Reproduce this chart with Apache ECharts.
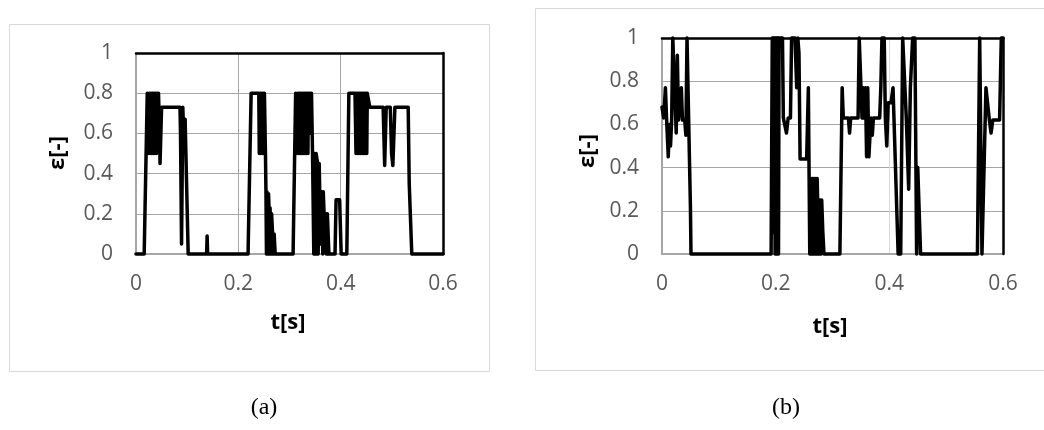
<!DOCTYPE html>
<html>
<head>
<meta charset="utf-8">
<script src="https://cdn.jsdelivr.net/npm/echarts@6/dist/echarts.min.js"></script>
<style>
html,body{margin:0;padding:0;background:#fff;}
#chart{width:1044px;height:430px;}
</style>
</head>
<body>
<div id="chart"></div>
<script>
// ---- data ----
const xTicks = [0, 0.2, 0.4, 0.6];
const yTicks = [0, 0.2, 0.4, 0.6, 0.8, 1];

// panel (a)
const tA = [0, 0.016, 0.018, 0.019, 0.022, 0.025, 0.026, 0.028, 0.029, 0.031, 0.032, 0.034, 0.035, 0.037, 0.038, 0.040, 0.041, 0.043, 0.044, 0.046, 0.047, 0.050,
  0.086, 0.087, 0.089, 0.0915, 0.093, 0.096, 0.099, 0.102, 0.138, 0.139, 0.140,
  0.219, 0.225, 0.240, 0.241, 0.242, 0.244, 0.245, 0.247, 0.248, 0.250, 0.251, 0.253, 0.254, 0.255, 0.256, 0.258, 0.259, 0.260, 0.261, 0.262, 0.264, 0.265, 0.267, 0.268, 0.270, 0.272,
  0.307, 0.312, 0.315, 0.316, 0.318, 0.319, 0.321, 0.322, 0.324, 0.325, 0.327, 0.328, 0.330, 0.331, 0.333, 0.334, 0.336, 0.337, 0.339, 0.340, 0.342, 0.343, 0.345, 0.3475,
  0.349, 0.351, 0.352, 0.355, 0.356, 0.358, 0.360, 0.361, 0.363, 0.365, 0.366, 0.368, 0.369, 0.371, 0.372, 0.374, 0.376, 0.377,
  0.389, 0.391, 0.398, 0.401, 0.412, 0.416, 0.428, 0.430, 0.431, 0.433, 0.434, 0.436, 0.437, 0.439, 0.440, 0.442, 0.443, 0.445, 0.446, 0.448, 0.449, 0.451, 0.452, 0.455, 0.457,
  0.483, 0.486, 0.489, 0.497, 0.4995, 0.502, 0.504, 0.506, 0.532, 0.534, 0.539, 0.6];
const epsA = [0, 0, 0.27, 0.27, 0.8, 0.5, 0.8, 0.5, 0.8, 0.5, 0.8, 0.5, 0.8, 0.5, 0.8, 0.5, 0.8, 0.55, 0.8, 0.6, 0.45, 0.73,
  0.73, 0.6, 0.05, 0.73, 0.6, 0.67, 0.67, 0, 0, 0.09, 0,
  0, 0.8, 0.8, 0.5, 0.8, 0.5, 0.8, 0.5, 0.8, 0.5, 0.8, 0.5, 0.31, 0, 0.31, 0, 0.3, 0.23, 0, 0.23, 0, 0.2, 0.1, 0, 0.1, 0,
  0, 0.8, 0.5, 0.8, 0.5, 0.8, 0.5, 0.8, 0.5, 0.8, 0.5, 0.8, 0.5, 0.8, 0.5, 0.8, 0.5, 0.8, 0.6, 0.8, 0.6, 0.8, 0.5, 0,
  0.5, 0, 0.5, 0.45, 0, 0.45, 0.45, 0.05, 0.31, 0, 0.31, 0.31, 0.1, 0.2, 0, 0.2, 0.2, 0,
  0, 0.27, 0.27, 0, 0, 0.8, 0.8, 0.5, 0.8, 0.5, 0.8, 0.5, 0.8, 0.5, 0.8, 0.5, 0.8, 0.5, 0.8, 0.5, 0.8, 0.5, 0.8, 0.8, 0.73,
  0.73, 0.44, 0.73, 0.73, 0.5, 0.44, 0.44, 0.73, 0.73, 0.35, 0, 0];

// panel (b)
const tB = [0, 0.003, 0.006, 0.008, 0.011, 0.013, 0.015, 0.017, 0.019, 0.022, 0.025, 0.027, 0.029, 0.031, 0.034, 0.036, 0.040, 0.042, 0.044, 0.047, 0.050, 0.051,
  0.192, 0.194, 0.195, 0.196, 0.197, 0.198, 0.199, 0.200, 0.201, 0.202, 0.203, 0.204, 0.205, 0.206, 0.2075, 0.212, 0.2135, 0.216, 0.219, 0.222, 0.226, 0.228, 0.234, 0.237, 0.239, 0.241, 0.243, 0.2545, 0.2575, 0.260,
  0.261, 0.262, 0.263, 0.264, 0.265, 0.266, 0.267, 0.268, 0.269, 0.270, 0.271, 0.272, 0.273, 0.275, 0.276, 0.277, 0.278, 0.279, 0.280, 0.281, 0.283, 0.285,
  0.313, 0.317, 0.319, 0.328, 0.330, 0.332, 0.345, 0.347, 0.350, 0.352, 0.354, 0.356, 0.358, 0.360, 0.362, 0.364, 0.366, 0.368, 0.370, 0.372, 0.383, 0.385, 0.387, 0.391, 0.393, 0.3955, 0.398, 0.403, 0.4065, 0.4155,
  0.420, 0.4235, 0.427, 0.430, 0.434, 0.437, 0.441, 0.445, 0.448, 0.450, 0.453, 0.455,
  0.555, 0.559, 0.563, 0.566, 0.570, 0.576, 0.579, 0.582, 0.594, 0.597, 0.6];
const epsB = [0.68, 0.63, 0.77, 0.63, 0.45, 0.6, 0.5, 0.62, 1, 1, 0.56, 0.92, 0.62, 0.62, 0.77, 0.62, 0.62, 0.55, 1, 1, 0.22, 0,
  0, 1, 0.1, 1, 0.2, 1, 0, 1, 0, 1, 0, 1, 0, 1, 1, 1, 0.63, 0.63, 0.56, 0.63, 0.63, 1, 1, 0.77, 1, 0.93, 0.44, 0.44, 0.77, 0,
  0.28, 0, 0.35, 0, 0.35, 0, 0.35, 0, 0.35, 0.05, 0.35, 0, 0.35, 0.35, 0, 0.25, 0, 0.25, 0, 0.25, 0.1, 0,
  0, 0.77, 0.63, 0.63, 0.56, 0.63, 0.63, 1, 1, 0.63, 0.77, 0.63, 0.77, 0.45, 0.77, 0.45, 0.55, 0.63, 0.55, 0.63, 0.63, 0.77, 1, 1, 0.63, 0.5, 0.7, 0.7, 0.77, 0,
  0, 1, 1, 0.62, 0.3, 0.77, 1, 1, 0, 0.4, 0.4, 0,
  0, 1, 0, 0, 0.77, 0.62, 0.56, 0.62, 0.62, 1, 1];

// ---- chart ----
const seriesA = tA.map((t, i) => [t, epsA[i]]);
const seriesB = tB.map((t, i) => [t, epsB[i]]);
const xMin = xTicks[0], xMax = xTicks[xTicks.length - 1], xInt = xTicks[1] - xTicks[0];
const yMin = yTicks[0], yMax = yTicks[yTicks.length - 1], yInt = yTicks[1] - yTicks[0];

const tickFont = { fontFamily: 'Open Sans', fontSize: 21, color: '#595959' };

function xAxes(grid, vGridColor) {
  return [
    { type: 'value', gridIndex: grid, position: 'bottom', min: xMin, max: xMax, interval: xInt,
      axisLine: { show: true, onZero: false, lineStyle: { color: '#a6a6a6', width: 2 } },
      axisTick: { show: false },
      axisLabel: Object.assign({ margin: 20 }, tickFont),
      splitLine: { show: true, lineStyle: { color: vGridColor, width: 1 } }, z: 3 },
    { type: 'value', gridIndex: grid, position: 'top', min: xMin, max: xMax, interval: xInt,
      axisLine: { show: true, onZero: false, lineStyle: { color: '#000', width: 2.5 } },
      axisTick: { show: false }, axisLabel: { show: false }, splitLine: { show: false }, z: 6 }
  ];
}
function yAxes(grid) {
  return [
    { type: 'value', gridIndex: grid, position: 'left', min: yMin, max: yMax, interval: yInt,
      axisLine: { show: true, onZero: false, lineStyle: { color: '#a6a6a6', width: 2 } },
      axisTick: { show: false },
      axisLabel: Object.assign({ margin: 23 }, tickFont),
      splitLine: { show: true, lineStyle: { color: '#a6a6a6', width: 1 } }, z: 3 },
    { type: 'value', gridIndex: grid, position: 'right', min: yMin, max: yMax, interval: yInt,
      axisLine: { show: true, onZero: false, lineStyle: { color: '#000', width: 2.5 } },
      axisTick: { show: false }, axisLabel: { show: false }, splitLine: { show: false }, z: 6 }
  ];
}

function txt(x, y, s, font, rot) {
  return { type: 'text', x: x, y: y, rotation: rot || 0, z: 10,
    style: { text: s, font: font, fill: '#000', align: 'center', verticalAlign: 'middle',
             textAlign: 'center', textVerticalAlign: 'middle' } };
}

const chart = echarts.init(document.getElementById('chart'), null, { renderer: 'canvas' });
chart.setOption({
  animation: false,
  backgroundColor: '#fff',
  grid: [
    { left: 136, top: 53, width: 307, height: 201 },
    { left: 662, top: 38, width: 341, height: 216 }
  ],
  xAxis: xAxes(0, '#a6a6a6').concat(xAxes(1, '#d9d9d9')),
  yAxis: yAxes(0).concat(yAxes(1)),
  series: [
    { type: 'line', xAxisIndex: 0, yAxisIndex: 0, data: seriesA, symbol: 'none', clip: false,
      lineStyle: { color: '#000', width: 3.5, join: 'round', cap: 'round' }, z: 5 },
    { type: 'line', xAxisIndex: 2, yAxisIndex: 2, data: seriesB, symbol: 'none', clip: false,
      lineStyle: { color: '#000', width: 3.5, join: 'round', cap: 'round' }, z: 5 }
  ],
  graphic: [
    { type: 'rect', shape: { x: 9.5, y: 24.5, width: 480, height: 347 }, style: { fill: 'none', stroke: '#d9d9d9', lineWidth: 1 }, z: -1 },
    { type: 'rect', shape: { x: 535.5, y: 8.5, width: 520, height: 362 }, style: { fill: 'none', stroke: '#d9d9d9', lineWidth: 1 }, z: -1 },
    txt(288, 323, 't[s]', 'bold 22px "Open Sans"'),
    txt(830, 327, 't[s]', 'bold 22px "Open Sans"'),
    txt(58, 153, 'ε[-]', 'bold 22px "Open Sans"', Math.PI / 2),
    txt(588, 151, 'ε[-]', 'bold 22px "Open Sans"', Math.PI / 2),
    txt(264, 408, '(a)', '24px "Liberation Serif"'),
    txt(786, 408, '(b)', '24px "Liberation Serif"')
  ]
});
</script>
</body>
</html>
